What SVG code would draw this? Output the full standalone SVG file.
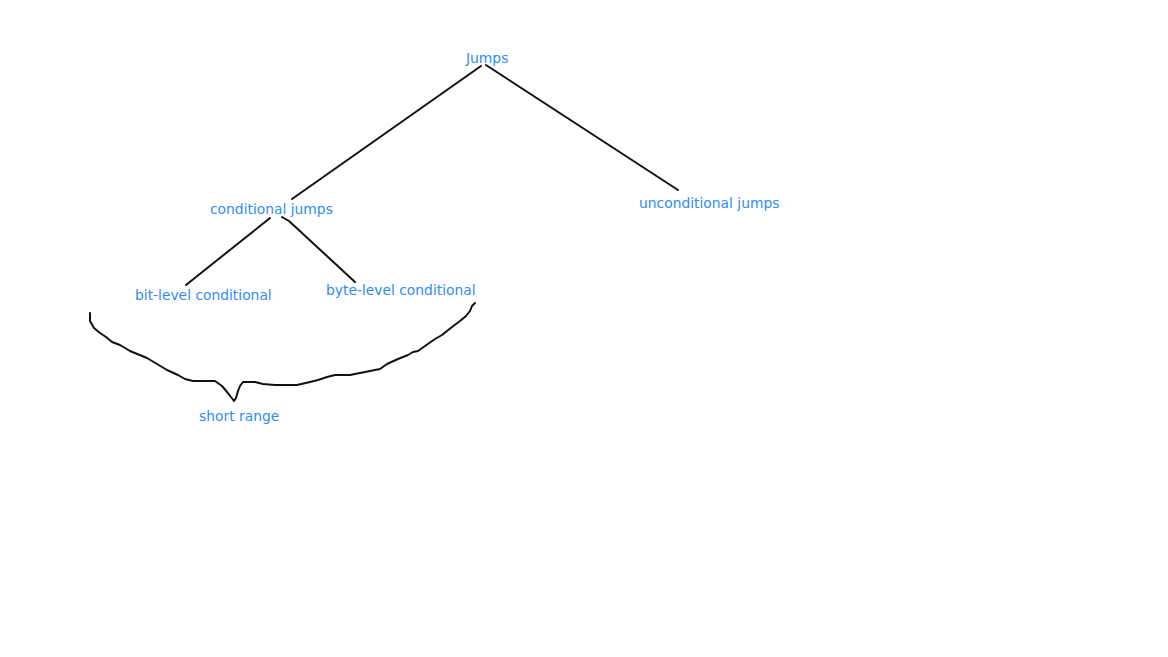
<svg xmlns="http://www.w3.org/2000/svg" width="1168" height="657" viewBox="0 0 1168 657">
<style>
.lbl{font-family:"DejaVu Sans",Verdana,sans-serif;font-size:13.85px;fill:#2f8cf5}
.ln{stroke:#111;stroke-width:2;fill:none;stroke-linecap:round;stroke-linejoin:round}
</style>
<rect width="1168" height="657" fill="#fff"/>
<g id="connectors">
<line class="ln" x1="481" y1="66" x2="292" y2="199"/>
<line class="ln" x1="486" y1="65" x2="678" y2="190"/>
<line class="ln" x1="270" y1="218" x2="186" y2="285"/>
<polyline class="ln" points="282,217 289,221 355,282"/>
<polyline class="ln" points="90,313 90,321 94,328 100,333 106,337 112,342 120,345 130,351 147,358 157,364 167,370 178,375 185,379 193,381 215,381 222,386 227,392 231,397 234,401 236,398 238,391 240,386 243,382 255,382 263,384 275,385 297,385 310,382 318,380 327,377 335,375 350,375 365,372 380,369 387,364 398,359 408,355 413,352 418,351 425,346 435,339 442,335 447,331 452,327 460,321 466,316 470,311 472,306 475,303"/>
</g>
<g id="n-jumps"><text class="lbl" x="466" y="63">Jumps</text></g>
<g id="n-conditional"><text class="lbl" x="210" y="214">conditional jumps</text></g>
<g id="n-unconditional"><text class="lbl" x="639" y="208">unconditional jumps</text></g>
<g id="n-bit"><text class="lbl" x="135" y="300">bit-level conditional</text></g>
<g id="n-byte"><text class="lbl" x="326" y="295">byte-level conditional</text></g>
<g id="n-short"><text class="lbl" x="199" y="421">short range</text></g>
</svg>
